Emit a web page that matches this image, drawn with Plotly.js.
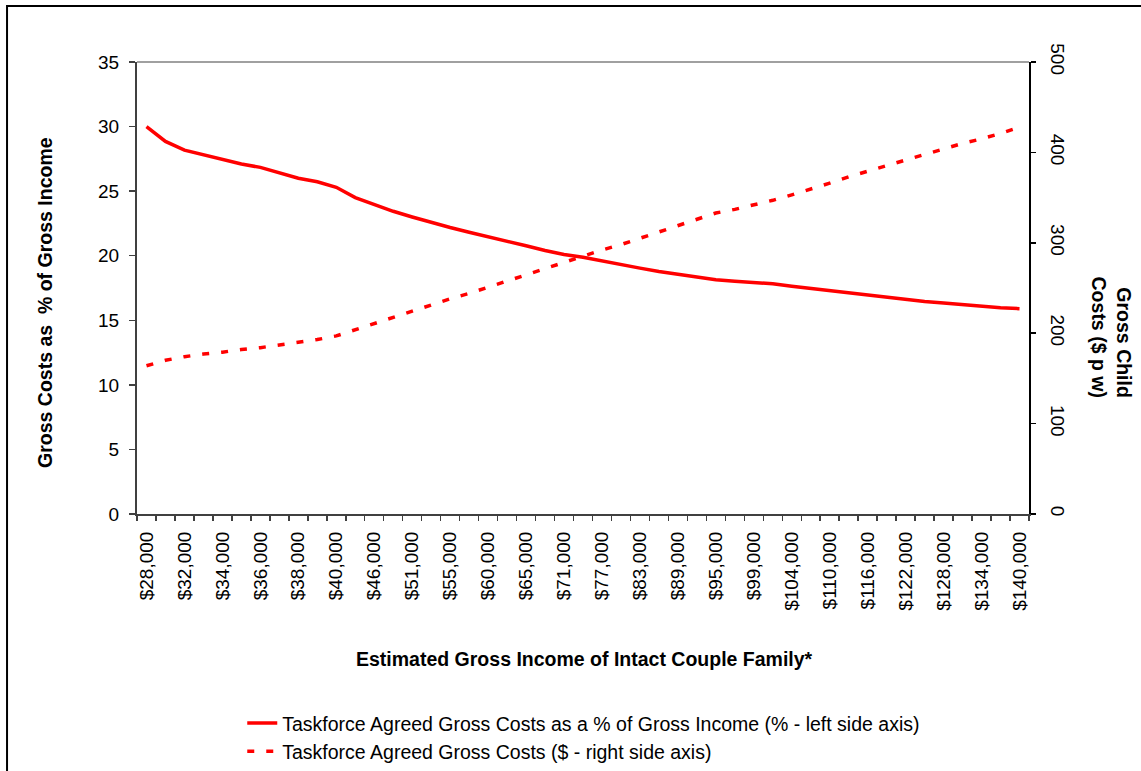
<!DOCTYPE html>
<html><head><meta charset="utf-8">
<script src="https://cdn.plot.ly/plotly-3.0.1.min.js"></script>
<style>html,body{margin:0;padding:0;background:#fff;overflow:hidden}#chart{width:1141px;height:771px}</style>
</head><body><div id="chart"></div>
<script>
// Categories: estimated gross income of intact couple family (every other one is labelled)
const incomes = ['$28,000','$30,000','$32,000','$33,000','$34,000','$35,000','$36,000','$37,000','$38,000','$39,000',
  '$40,000','$43,000','$46,000','$48,000','$51,000','$53,000','$55,000','$58,000','$60,000','$63,000',
  '$65,000','$68,000','$71,000','$74,000','$77,000','$80,000','$83,000','$86,000','$89,000','$92,000',
  '$95,000','$97,000','$99,000','$101,000','$104,000','$107,000','$110,000','$113,000','$116,000','$119,000',
  '$122,000','$125,000','$128,000','$131,000','$134,000','$137,000','$140,000'];
// Tick labels visible on the axis
const shownLabels = ['$28,000','$32,000','$34,000','$36,000','$38,000','$40,000','$46,000','$51,000','$55,000','$60,000',
  '$65,000','$71,000','$77,000','$83,000','$89,000','$95,000','$99,000','$104,000','$110,000','$116,000',
  '$122,000','$128,000','$134,000','$140,000'];
// Series 1: gross costs as % of gross income (left axis)
const pctOfIncome = [30.0,28.85,28.18,27.82,27.43,27.1,26.84,26.4,26.0,25.73,
  25.3,24.5,23.96,23.44,23.0,22.57,22.18,21.82,21.48,21.15,
  20.77,20.4,20.09,19.88,19.58,19.32,19.04,18.78,18.55,18.32,
  18.14,18.03,17.93,17.83,17.64,17.47,17.29,17.1,16.92,16.77,
  16.62,16.46,16.33,16.2,16.07,15.97,15.9];
// Series 2: gross costs, $ per week (right axis)
const grossCosts = [164,170,174,177,179,182,184,187,190,193,
  197,204,211,218,224,231,238,244,251,257,
  264,271,278,285,292,298,305,312,319,326,
  333,337,342,347,353,359,366,373,379,386,
  392,398,404,410,415,421,428];

const seriesNames = ['Taskforce Agreed Gross Costs as a % of Gross Income (% - left side axis)',
                     'Taskforce Agreed Gross Costs ($ - right side axis)'];

const FONT = 'Liberation Sans, Arial, Helvetica, sans-serif';
const tickText = incomes.map(c => shownLabels.includes(c) ? c : '');

const traces = [
  {type:'scatter', mode:'lines', x:incomes, y:pctOfIncome, name:seriesNames[0], yaxis:'y',
   line:{color:'#FF0000', width:3.5}},
  {type:'scatter', mode:'lines', x:incomes, y:grossCosts, name:seriesNames[1], yaxis:'y2',
   line:{color:'#FF0000', width:3.5, dash:'7px,12px'}}
];

const layout = {
  width:1141, height:771,
  margin:{l:137, r:112, t:62, b:257, pad:0, autoexpand:false},
  paper_bgcolor:'#ffffff', plot_bgcolor:'#ffffff',
  font:{family:FONT, size:19, color:'#000'},
  showlegend:true,
  legend:{x:0.118, y:-0.42, xanchor:'left', yanchor:'top', orientation:'v',
          bgcolor:'rgba(0,0,0,0)', font:{family:FONT, size:19.5, color:'#000'}, tracegroupgap:0},
  xaxis:{type:'category', range:[-0.5, incomes.length-0.5], tickmode:'array', tickvals:incomes, ticktext:tickText,
         tickson:'boundaries', ticks:'outside', ticklen:5, tickwidth:1.5, tickcolor:'#404040',
         showline:true, linecolor:'#404040', linewidth:2, showgrid:false, zeroline:false,
         tickangle:-90, tickfont:{family:FONT, size:19, color:'#000'}, ticklabelstandoff:8, automargin:false},
  yaxis:{range:[0,35], tickmode:'linear', tick0:0, dtick:5, ticks:'outside', ticklen:6, tickwidth:1.5, tickcolor:'#404040',
         showline:true, linecolor:'#404040', linewidth:2, showgrid:false, zeroline:false,
         tickfont:{family:FONT, size:19, color:'#000'}, ticklabelstandoff:6, automargin:false},
  yaxis2:{overlaying:'y', side:'right', range:[0,500], tickmode:'linear', tick0:0, dtick:100, ticks:'outside', ticklen:5,
          tickwidth:1.5, tickcolor:'#000', showline:true, linecolor:'#000', linewidth:1.5, showgrid:false, zeroline:false,
          tickangle:90, tickfont:{family:FONT, size:19, color:'#000'}, ticklabelstandoff:8, automargin:false},
  shapes:[
    {type:'rect', xref:'paper', yref:'paper', x0:-0.1457, x1:1.3, y0:-0.8, y1:1.1239,
     line:{color:'#000', width:2}, fillcolor:'rgba(0,0,0,0)', layer:'below'},
    {type:'line', xref:'paper', yref:'paper', x0:0, x1:1, y0:1, y1:1, line:{color:'#808080', width:1.5}}
  ],
  annotations:[
    {text:'Gross Costs as  % of Gross Income', xref:'paper', yref:'paper', x:-0.1026, y:0.468,
     xanchor:'center', yanchor:'middle', textangle:-90, showarrow:false,
     font:{family:FONT, size:19.5, color:'#000', weight:'bold'}},
    {text:'Gross Child<br>Costs ($ p w)', xref:'paper', yref:'paper', x:1.093, y:0.3905,
     xanchor:'center', yanchor:'middle', textangle:90, align:'right', showarrow:false,
     font:{family:FONT, size:19.5, color:'#000', weight:'bold'}},
    {text:'Estimated Gross Income of Intact Couple Family*', xref:'paper', yref:'paper', x:0.5022, y:-0.3208,
     xanchor:'center', yanchor:'middle', showarrow:false,
     font:{family:FONT, size:19.5, color:'#000', weight:'bold'}}
  ]
};

Plotly.newPlot('chart', traces, layout, {displayModeBar:false, staticPlot:true});
</script>
</body></html>
